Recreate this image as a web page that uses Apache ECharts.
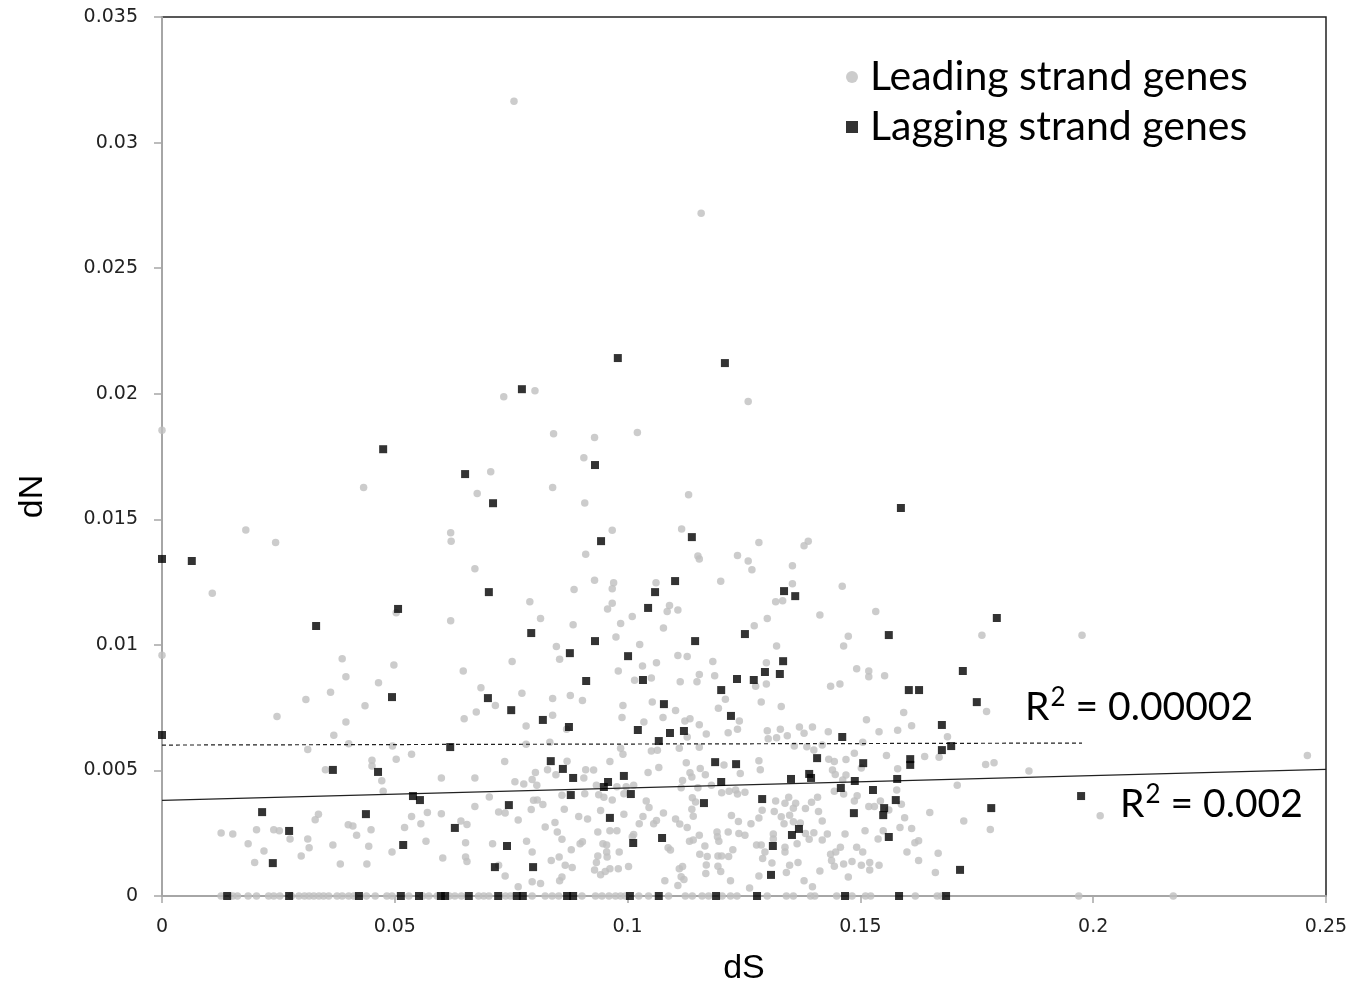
<!DOCTYPE html>
<html><head><meta charset="utf-8">
<script src="https://cdn.jsdelivr.net/npm/echarts@6/dist/echarts.min.js"></script>
<style>html,body{margin:0;padding:0;background:#fff}#c{width:1364px;height:995px}</style>
</head><body><div id="c"></div>
<script>
const xTickLabels = ['0','0.05','0.1','0.15','0.2','0.25'];
const yTickLabels = ['0','0.005','0.01','0.015','0.02','0.025','0.03','0.035'];
const seriesNames = ['Leading strand genes','Lagging strand genes'];
const r2Values = ['0.00002','0.002'];

// Leading strand genes [dS, dN]
const leading = [
[0,0.01855],[0.0433,0.01627],[0.0180,0.01457],[0.0244,0.01408],[0.0108,0.01205],[0.0503,0.01128],[0.0620,0.01446],[0.0621,0.01413],[0.0620,0.01096],
[0.0756,0.03165],[0.1158,0.02719],
[0.0734,0.01988],[0.0801,0.02012],[0.0841,0.01841],[0.0929,0.01826],[0.1021,0.01846],[0.0906,0.01745],[0.0706,0.01689],[0.0677,0.01603],[0.0839,0.01627],[0.0908,0.01565],[0.1131,0.01598],[0.1116,0.01461],[0.0967,0.01456],[0.0910,0.01361],[0.1151,0.01354],[0.1154,0.01342],[0.1236,0.01356],[0.0672,0.01303],[0.0929,0.01257],[0.0970,0.01247],[0.0967,0.01223],[0.1061,0.01247],[0.1200,0.01253],[0.0885,0.0122],[0.0790,0.01172],[0.0967,0.01166],[0.0957,0.01143],[0.1090,0.01157],[0.1085,0.01133],[0.1108,0.01139],[0.1010,0.01113],[0.0813,0.01105],[0.0985,0.01085],[0.0883,0.0108],[0.1077,0.01067],[0.0975,0.01031],
[0.1259,0.01969],[0.1282,0.01408],[0.1379,0.01395],[0.1388,0.01413],[0.1259,0.01334],[0.1267,0.01299],[0.1354,0.01315],[0.1354,0.01243],[0.1461,0.01233],[0.1318,0.01172],[0.1333,0.01176],[0.1300,0.01105],[0.1272,0.01076],[0.1413,0.01119],[0.1533,0.01133],[0.1474,0.01034],[0.1761,0.01038],[0.1976,0.01038],
[0,0.00959],[0.0387,0.00945],[0.0395,0.00873],[0.0498,0.0092],[0.0465,0.00849],[0.0362,0.00811],[0.0309,0.00782],[0.0436,0.00758],[0.0247,0.00715],[0.0395,0.00693],[0.0369,0.0064],[0.0401,0.00606],[0.0495,0.00597],[0.0313,0.00583],[0.0503,0.00545],[0.0536,0.00564],[0.0451,0.00541],[0.0451,0.00518],[0.0351,0.00503],[0.0472,0.00459],[0.0475,0.00417],[0.0600,0.0047],[0.0570,0.00332],[0.0600,0.00328],[0.0536,0.00317],[0.0556,0.00288],[0.0521,0.00273],[0.0567,0.00218],[0.0494,0.00175],[0.0603,0.00151],[0.0440,0.00127],[0.0444,0.00198],[0.0449,0.00264],[0.0418,0.00242],[0.0410,0.00279],[0.0400,0.00284],[0.0336,0.00326],[0.0329,0.00304],[0.0367,0.00203],[0.0383,0.00127],[0.0313,0.00227],[0.0316,0.00192],[0.0299,0.00159],[0.0275,0.00227],[0.0240,0.00264],[0.0252,0.0026],[0.0203,0.00264],[0.0185,0.00208],[0.0219,0.00179],[0.0199,0.00133],[0.0152,0.00247],[0.0127,0.00251],
[0.0847,0.00993],[0.0854,0.00943],[0.0752,0.00934],[0.0647,0.00896],[0.1026,0.01001],[0.1032,0.00916],[0.0980,0.00896],[0.1062,0.00929],[0.1108,0.00958],[0.1128,0.00954],[0.1183,0.00934],[0.1154,0.00882],[0.1187,0.00877],[0.1051,0.00868],[0.1015,0.00859],[0.1113,0.00853],[0.1149,0.00853],[0.0685,0.00829],[0.0716,0.00759],[0.0773,0.00807],[0.0839,0.00786],[0.0877,0.00798],[0.0903,0.00778],[0.0990,0.00759],[0.1053,0.00772],[0.1103,0.00739],[0.1210,0.00783],[0.1195,0.00748],[0.0675,0.00733],[0.0649,0.00706],[0.0782,0.00677],[0.0839,0.0072],[0.0988,0.00711],[0.1035,0.00693],[0.1076,0.00711],[0.1123,0.00697],[0.1134,0.00706],[0.1154,0.00682],[0.1169,0.00645],[0.1128,0.00633],[0.1216,0.0065],[0.1236,0.00664],[0.1240,0.00697],[0.0869,0.00664],[0.0833,0.00612],[0.0782,0.00604],[0.0985,0.00588],[0.0990,0.00564],[0.1051,0.00577],[0.1064,0.0058],[0.1111,0.00588],[0.1154,0.00592],[0.0736,0.00536],[0.0870,0.00537],[0.0828,0.00503],[0.0846,0.00483],[0.0802,0.00492],[0.0910,0.00503],[0.0927,0.00502],[0.0962,0.00536],[0.1044,0.00492],[0.1067,0.00512],[0.1126,0.00531],[0.1156,0.00508],[0.1134,0.00491],[0.1138,0.00474],[0.1167,0.00483],[0.1207,0.00522],[0.1242,0.00488],[0.0672,0.0047],[0.0758,0.00455],[0.0777,0.00446],[0.0795,0.00464],[0.0805,0.00441],[0.0906,0.0047],[0.0933,0.00441],[0.0977,0.00435],[0.0997,0.00435],[0.1013,0.00441],[0.1118,0.0046],[0.1151,0.00431],[0.1115,0.00431],[0.1180,0.00441],[0.1202,0.00411],[0.1218,0.00417],[0.1232,0.00422],[0.1236,0.00406],[0.0703,0.00394],[0.0859,0.00401],[0.0908,0.00407],[0.0938,0.00403],[0.0949,0.00393],[0.0967,0.00382],[0.0992,0.00407],[0.1040,0.00378],[0.1046,0.00352],[0.1139,0.00391],[0.1146,0.00374],[0.1138,0.00345],[0.0672,0.00356],[0.0798,0.00381],[0.0806,0.00382],[0.0818,0.00364],[0.0793,0.00344],[0.0864,0.00345],[0.0723,0.00334],[0.0737,0.0033],[0.0765,0.00303],[0.0895,0.00317],[0.0914,0.00307],[0.0942,0.0034],[0.0992,0.00326],[0.1033,0.00317],[0.1025,0.00288],[0.1056,0.00288],[0.1062,0.00301],[0.1077,0.0033],[0.1103,0.00307],[0.1112,0.00287],[0.1128,0.00273],[0.1141,0.00318],[0.1223,0.00321],[0.1238,0.00297],[0.0642,0.00299],[0.0655,0.00285],[0.0823,0.00275],[0.0844,0.00293],[0.0849,0.00255],[0.0859,0.00226],[0.0936,0.00255],[0.0962,0.0026],[0.0977,0.0026],[0.1010,0.00236],[0.1013,0.00245],[0.1133,0.00218],[0.1154,0.00242],[0.1141,0.00223],[0.1166,0.00199],[0.1192,0.00255],[0.1193,0.00236],[0.1216,0.00255],[0.1239,0.00249],[0.1196,0.00218],[0.1226,0.00184],[0.0652,0.00212],[0.0710,0.00208],[0.0783,0.00218],[0.0795,0.00175],[0.0879,0.00184],[0.0898,0.00208],[0.0903,0.00216],[0.0947,0.00208],[0.0955,0.00203],[0.0982,0.00175],[0.0955,0.00175],[0.0936,0.00159],[0.0956,0.00155],[0.0933,0.00133],[0.0929,0.00104],[0.0942,0.00085],[0.0952,0.00098],[0.0962,0.00109],[0.0980,0.00109],[0.1002,0.00117],[0.1087,0.00192],[0.1092,0.00183],[0.1155,0.00166],[0.1171,0.00157],[0.1194,0.00159],[0.1202,0.00159],[0.1217,0.00157],[0.1169,0.00123],[0.1194,0.00118],[0.1200,0.00098],[0.1168,0.0009],[0.1111,0.00109],[0.1118,0.00117],[0.1115,0.00077],[0.1121,0.00066],[0.1108,0.00042],[0.1080,0.00061],[0.1221,0.00061],[0.0652,0.00155],[0.0655,0.00137],[0.0723,0.00122],[0.0737,0.0008],[0.0836,0.00141],[0.0853,0.00155],[0.0866,0.00122],[0.0881,0.00113],[0.0859,0.00076],[0.0854,0.00061],[0.0795,0.00057],[0.0813,0.0005],[0.0765,0.00037],
[0.1320,0.00995],[0.1464,0.00995],[0.1298,0.00929],[0.1298,0.00844],[0.1275,0.00835],[0.1330,0.00755],[0.1287,0.00772],[0.1436,0.00835],[0.1456,0.00844],[0.1492,0.00905],[0.1518,0.00896],[0.1518,0.00873],[0.1552,0.00877],[0.1593,0.00731],[0.1610,0.00678],[0.1513,0.00702],[0.1771,0.00735],[0.1580,0.0066],[0.1540,0.00654],[0.1687,0.00634],[0.1669,0.00552],[0.1638,0.00555],[0.1769,0.00524],[0.1787,0.00531],[0.1862,0.00498],[0.1708,0.00441],[0.1722,0.00299],[0.1649,0.00332],[0.1779,0.00265],[0.1667,0.0017],[0.1661,0.00094],[0.1300,0.00658],[0.1328,0.00664],[0.1302,0.00626],[0.1320,0.0063],[0.1343,0.00638],[0.1369,0.00673],[0.1379,0.00648],[0.1397,0.00673],[0.1431,0.00654],[0.1358,0.00597],[0.1385,0.00594],[0.1400,0.00581],[0.1418,0.00601],[0.1487,0.00568],[0.1505,0.00612],[0.1556,0.00559],[0.1580,0.00507],[0.1282,0.00539],[0.1285,0.00503],[0.1432,0.00545],[0.1444,0.00536],[0.1440,0.00502],[0.1446,0.00484],[0.1469,0.00482],[0.1469,0.00544],[0.1502,0.0051],[0.1462,0.00462],[0.1444,0.00417],[0.1464,0.00406],[0.1493,0.00399],[0.1487,0.00378],[0.1578,0.00422],[0.1543,0.00378],[0.1588,0.00365],[0.1561,0.00342],[0.1518,0.00356],[0.1530,0.00356],[0.1252,0.00413],[0.1318,0.00378],[0.1338,0.00369],[0.1346,0.00393],[0.1361,0.00369],[0.1382,0.00348],[0.1395,0.00373],[0.1408,0.00393],[0.1410,0.00336],[0.1356,0.00349],[0.1289,0.00341],[0.1315,0.00336],[0.1330,0.00316],[0.1348,0.00322],[0.1356,0.00296],[0.1336,0.00288],[0.1282,0.00311],[0.1265,0.00288],[0.1418,0.00299],[0.1371,0.00291],[0.1382,0.00249],[0.1400,0.00252],[0.1390,0.00226],[0.1429,0.00247],[0.1418,0.00223],[0.1467,0.00247],[0.1510,0.0026],[0.1538,0.00227],[0.1549,0.0026],[0.1585,0.00273],[0.1595,0.00312],[0.1610,0.00269],[0.1625,0.0022],[0.1617,0.00212],[0.1600,0.00175],[0.1625,0.00141],[0.1540,0.00122],[0.1520,0.00133],[0.1520,0.00104],[0.1502,0.00122],[0.1492,0.00194],[0.1505,0.00175],[0.1482,0.00137],[0.1464,0.00127],[0.1474,0.00076],[0.1436,0.00166],[0.1447,0.00175],[0.1457,0.00194],[0.1438,0.00141],[0.1444,0.00118],[0.1413,0.001],[0.1379,0.00061],[0.1397,0.00037],[0.1366,0.00133],[0.1348,0.00122],[0.1341,0.00094],[0.1310,0.00131],[0.1313,0.00247],[0.1313,0.00227],[0.1338,0.00194],[0.1338,0.00175],[0.1295,0.00175],[0.1277,0.00203],[0.1287,0.00203],[0.1290,0.00149],[0.1252,0.00242],[0.1282,0.0008],[0.1262,0.00032],[0.1364,0.00208],
[0.2460,0.00559],[0.2015,0.0032],
[0.0127,0],[0.0152,0],[0.0162,0],[0.0185,0],[0.0203,0],[0.0229,0],[0.0240,0],[0.0253,0],[0.0278,0],[0.0294,0],[0.0306,0],[0.0316,0],[0.0326,0],[0.0337,0],[0.0347,0],[0.0358,0],[0.0376,0],[0.0387,0],[0.0401,0],[0.0412,0],[0.0439,0],[0.0458,0],[0.0483,0],[0.0494,0],[0.0530,0],[0.0560,0],[0.0573,0],[0.0591,0],[0.0617,0],
[0.0629,0],[0.0643,0],[0.0680,0],[0.0691,0],[0.0702,0],[0.0738,0],[0.0748,0],[0.0795,0],[0.0823,0],[0.0838,0],[0.0852,0],[0.0902,0],[0.0931,0],[0.0945,0],[0.0960,0],[0.0974,0],[0.0985,0],[0.0995,0],[0.1024,0],[0.1045,0],[0.1088,0],[0.1124,0],[0.1139,0],[0.1160,0],[0.1174,0],[0.1203,0],[0.1221,0],[0.1235,0],
[0.1300,0],[0.1341,0],[0.1356,0],[0.1393,0],[0.1402,0],[0.1449,0],[0.1482,0],[0.1511,0],[0.1522,0],[0.1618,0],[0.1665,0],[0.1674,0],[0.1969,0],[0.2172,0]
];

// Lagging strand genes [dS, dN]
const lagging = [
[0,0.01342],[0.0064,0.01334],[0,0.00641],[0.0331,0.01075],[0.0475,0.01779],[0.0507,0.01143],[0.0494,0.00792],[0.0619,0.00593],[0.0367,0.00502],[0.0464,0.00494],[0.0539,0.00398],[0.0554,0.00382],[0.0215,0.00334],[0.0438,0.00326],[0.0273,0.00259],[0.0518,0.00203],[0.0238,0.00131],[0.0629,0.00271],
[0.0140,0],[0.0273,0],[0.0423,0],[0.0513,0],[0.0552,0],[0.0599,0],[0.0608,0],
[0.0930,0.01015],[0.1145,0.01015],[0.0876,0.00967],[0.1001,0.00955],[0.0911,0.00856],[0.1033,0.0086],[0.1235,0.00864],[0.1201,0.0082],[0.0700,0.00788],[0.0750,0.0074],[0.1078,0.00764],[0.1222,0.00717],[0.0818,0.00701],[0.0874,0.00673],[0.1022,0.00661],[0.1091,0.00649],[0.1121,0.00657],[0.1067,0.00617],[0.0835,0.00537],[0.0861,0.00506],[0.0883,0.0047],[0.0992,0.00478],[0.0958,0.00454],[0.0949,0.00434],[0.1188,0.00533],[0.1233,0.00525],[0.1201,0.00454],[0.0878,0.00402],[0.1007,0.00406],[0.1164,0.0037],[0.0745,0.00362],[0.0962,0.00311],[0.1074,0.00231],[0.1012,0.00211],[0.0741,0.00199],[0.0715,0.00115],[0.0797,0.00115],
[0.0659,0],[0.0722,0],[0.0762,0],[0.0775,0],[0.0870,0],[0.0883,0],[0.1005,0],[0.1067,0],[0.1190,0],
[0.1334,0.00935],[0.1295,0.00892],[0.1327,0.00884],[0.1271,0.0086],[0.1720,0.00896],[0.1604,0.0082],[0.1626,0.0082],[0.1750,0.00772],[0.1675,0.00681],[0.1461,0.00633],[0.1695,0.00597],[0.1675,0.00581],[0.1407,0.00549],[0.1506,0.00529],[0.1607,0.00545],[0.1607,0.00522],[0.1351,0.00466],[0.1390,0.00486],[0.1394,0.0047],[0.1579,0.00466],[0.1488,0.00458],[0.1458,0.0043],[0.1527,0.00422],[0.1289,0.00386],[0.1576,0.00382],[0.1486,0.0033],[0.1551,0.0035],[0.1549,0.00322],[0.1781,0.0035],[0.1368,0.00267],[0.1353,0.00243],[0.1312,0.00199],[0.1561,0.00235],[0.1308,0.00084],[0.1714,0.00104],
[0.1278,0],[0.1467,0],[0.1583,0],[0.1684,0],
[0.1974,0.00398],
[0.0773,0.02018],[0.0930,0.01716],[0.0651,0.0168],[0.0711,0.01564],[0.0943,0.01413],[0.1138,0.01429],[0.1102,0.01254],[0.1059,0.0121],[0.0702,0.0121],[0.1044,0.01147],[0.0793,0.01047],
[0.1587,0.01545],[0.1336,0.01214],[0.1360,0.01194],[0.1793,0.01107],[0.1561,0.01039],[0.1252,0.01043],
[0.0979,0.02142],[0.1209,0.02122]
];

// Linear trendlines (end points)
const trendLeading = [[0,0.00381],[0.25,0.00504]];
const trendLagging = [[0,0.00601],[0.1976,0.00609]];

const chart = echarts.init(document.getElementById('c'), null, {renderer:'canvas'});
const r2Rich = {
  a:{fontFamily:'Lato',fontSize:39,color:'#000',lineHeight:44},
  s:{fontFamily:'Lato',fontSize:26,color:'#000',lineHeight:44,padding:[0,0,18,1]}
};
const tickRich = {t:{fontFamily:'DejaVu Sans',fontSize:19,color:'#222'}};
chart.setOption({
  animation:false,
  backgroundColor:'#ffffff',
  grid:{left:162,right:38,top:17,bottom:99,show:true,borderColor:'#222',borderWidth:1.5},
  legend:{
    show:true, orient:'vertical', left:841, top:51, itemGap:8,
    itemWidth:12, itemHeight:12,
    data:[{name:seriesNames[0],icon:'circle'},{name:seriesNames[1],icon:'rect'}],
    textStyle:{fontFamily:'Lato',fontSize:41,color:'#000',padding:[0,0,0,7],lineHeight:42}
  },
  xAxis:{
    type:'value',min:0,max:0.25,interval:0.05,
    name:'dS',nameLocation:'middle',nameGap:56,
    nameTextStyle:{fontFamily:'Liberation Sans',fontSize:34,color:'#000'},
    axisLine:{show:true,onZero:false,lineStyle:{color:'#a6a6a6',width:2}},
    axisTick:{show:true,inside:false,length:7,lineStyle:{color:'#a6a6a6',width:1.5}},
    axisLabel:{margin:22,fontSize:19,rich:tickRich,formatter:(v,i)=>'{t|'+xTickLabels[i]+'}'},
    splitLine:{show:false}
  },
  yAxis:{
    type:'value',min:0,max:0.035,interval:0.005,
    name:'dN',nameLocation:'middle',nameGap:112,nameRotate:90,
    nameTextStyle:{fontFamily:'Liberation Sans',fontSize:34,color:'#000',padding:[0,80,0,0]},
    axisLine:{show:true,onZero:false,lineStyle:{color:'#a6a6a6',width:2}},
    axisTick:{show:true,inside:false,length:8,lineStyle:{color:'#a6a6a6',width:1.5}},
    axisLabel:{margin:24,fontSize:19,rich:tickRich,formatter:(v,i)=>'{t|'+yTickLabels[i]+'}'},
    splitLine:{show:false}
  },
  series:[
    {name:seriesNames[0],type:'scatter',data:leading,symbol:'circle',symbolSize:7.5,clip:false,
     itemStyle:{color:'#bfbfbf'},z:2},
    {name:seriesNames[1],type:'scatter',data:lagging,symbol:'rect',symbolSize:8,clip:false,
     itemStyle:{color:'#000'},z:4},
    {name:'trendLeading',type:'line',data:trendLeading,symbol:'none',z:3,
     lineStyle:{color:'#222',width:1.2,type:'solid'}},
    {name:'trendLagging',type:'line',data:trendLagging,symbol:'none',z:3,
     lineStyle:{color:'#222',width:1.2,type:[4,3]}}
  ],
  graphic:[
    {type:'text',left:1025,top:685,style:{text:'{a|R}{s|2}{a| = '+r2Values[0]+'}',rich:r2Rich}},
    {type:'text',left:1120,top:782,style:{text:'{a|R}{s|2}{a| = '+r2Values[1]+'}',rich:r2Rich}}
  ]
});
</script>
</body></html>
